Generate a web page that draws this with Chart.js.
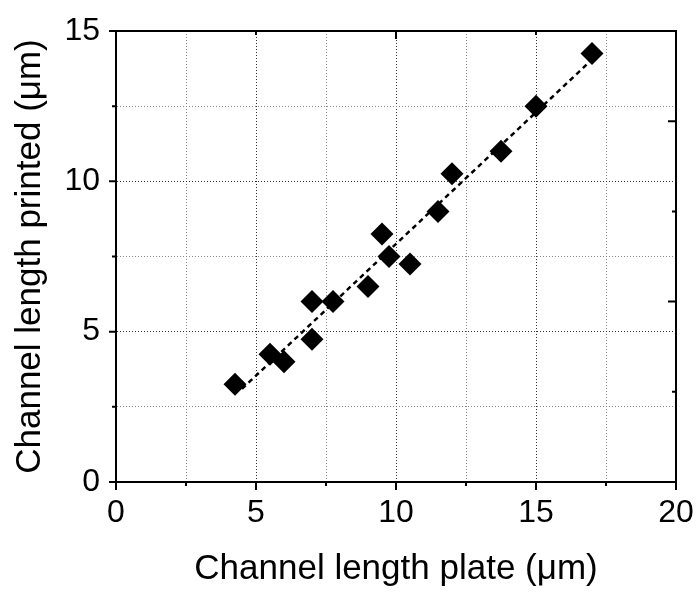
<!DOCTYPE html>
<html>
<head>
<meta charset="utf-8">
<script src="https://cdn.jsdelivr.net/npm/chart.js@4.4.1/dist/chart.umd.min.js"></script>
<style>
  html, body { margin: 0; padding: 0; background: #fff; }
  #wrap { width: 699px; height: 592px; }
</style>
</head>
<body>
<div id="wrap"><canvas id="chart" width="699" height="592"></canvas></div>
<script>
// --- data ---
const plateLength = [4.25, 5.5, 6.0, 7.0, 7.0, 7.75, 9.0, 9.5, 9.75, 10.5, 11.5, 12.0, 13.75, 15.0, 17.0];
const printedLength = [3.25, 4.25, 4.0, 4.75, 6.0, 6.0, 6.5, 8.25, 7.5, 7.25, 9.0, 10.25, 11.0, 12.5, 14.25];
// dashed fit line end points
const fitX = [4.5, 17.0];
const fitY = [3.1, 14.05];

// axis ticks
const xTicks = [0, 5, 10, 15, 20];
const xMinorTicks = [2.5, 7.5, 12.5, 17.5];
const yTicks = [0, 5, 10, 15];
const yMinorTicks = [2.5, 7.5, 12.5];
// top / right axes (inward ticks)
const topMajor = [0, 10, 20];
const topMinor = [5, 15];
const rightMajor = [0, 6, 12];
const rightMinor = [3, 9, 15];

const xTitle = 'Channel length plate (\u03bcm)';
const yTitle = 'Channel length printed (\u03bcm)';

const FONT = "'Liberation Sans', Arial, sans-serif";

const toXY = (xs, ys) => xs.map((x, i) => ({ x: x, y: ys[i] }));

// frame + tick marks drawn from the scales
const framePlugin = {
  id: 'frame',
  afterDraw(chart) {
    const { ctx, chartArea: a, scales: { x, y } } = chart;
    ctx.save();
    ctx.strokeStyle = '#000';
    ctx.lineWidth = 2;
    ctx.beginPath();
    // outward ticks, bottom
    xTicks.forEach(v => { const p = x.getPixelForValue(v); ctx.moveTo(p, a.bottom); ctx.lineTo(p, a.bottom + 8); });
    xMinorTicks.forEach(v => { const p = x.getPixelForValue(v); ctx.moveTo(p, a.bottom); ctx.lineTo(p, a.bottom + 4); });
    // outward ticks, left
    yTicks.forEach(v => { const p = y.getPixelForValue(v); ctx.moveTo(a.left, p); ctx.lineTo(a.left - 7, p); });
    yMinorTicks.forEach(v => { const p = y.getPixelForValue(v); ctx.moveTo(a.left, p); ctx.lineTo(a.left - 4, p); });
    // inward ticks, top
    topMajor.forEach(v => { const p = x.getPixelForValue(v); ctx.moveTo(p, a.top); ctx.lineTo(p, a.top + 8); });
    topMinor.forEach(v => { const p = x.getPixelForValue(v); ctx.moveTo(p, a.top); ctx.lineTo(p, a.top + 4); });
    // inward ticks, right
    rightMajor.forEach(v => { const p = y.getPixelForValue(v); ctx.moveTo(a.right, p); ctx.lineTo(a.right - 8, p); });
    rightMinor.forEach(v => { const p = y.getPixelForValue(v); ctx.moveTo(a.right, p); ctx.lineTo(a.right - 4, p); });
    ctx.stroke();
    // box
    ctx.strokeRect(a.left, a.top, a.right - a.left, a.bottom - a.top);
    ctx.restore();
  }
};

const isMajor = (v) => Math.abs(v % 5) < 1e-6;

new Chart(document.getElementById('chart'), {
  type: 'scatter',
  data: {
    datasets: [
      {
        label: 'data',
        data: toXY(plateLength, printedLength),
        pointStyle: 'rectRot',
        pointRadius: 11.5,
        pointHoverRadius: 11.5,
        backgroundColor: '#000',
        borderColor: '#000',
        borderWidth: 0,
        order: 1
      },
      {
        label: 'fit',
        data: toXY(fitX, fitY),
        showLine: true,
        pointRadius: 0,
        borderColor: '#000',
        borderWidth: 2.5,
        borderDash: [5, 4],
        order: 2
      }
    ]
  },
  options: {
    responsive: false,
    animation: false,
    events: [],
    layout: { padding: { top: 31, right: 23, left: 0, bottom: 0 } },
    plugins: {
      legend: { display: false },
      tooltip: { enabled: false }
    },
    scales: {
      x: {
        type: 'linear',
        min: 0,
        max: 20,
        afterBuildTicks: (s) => { s.ticks = xTicks.concat(xMinorTicks).sort((a, b) => a - b).map(v => ({ value: v })); },
        afterFit: (s) => { s.height = 110; s.paddingLeft = 0; s.paddingRight = 0; },
        ticks: {
          padding: 12,
          color: '#000',
          font: { family: FONT, size: 32 },
          callback: (v) => isMajor(v) ? String(v) : ''
        },
        grid: {
          drawTicks: false,
          color: (c) => (c.tick && isMajor(c.tick.value)) ? '#333' : '#888',
          lineWidth: 1
        },
        border: { display: true, color: '#000', width: 2, dash: [1, 2] },
        title: {
          display: true,
          text: xTitle,
          color: '#000',
          font: { family: FONT, size: 35 },
          padding: { top: 0, bottom: 2 }
        }
      },
      y: {
        type: 'linear',
        min: 0,
        max: 15,
        afterBuildTicks: (s) => { s.ticks = yTicks.concat(yMinorTicks).sort((a, b) => a - b).map(v => ({ value: v })); },
        afterFit: (s) => { s.width = 116; s.paddingTop = 0; s.paddingBottom = 0; },
        ticks: {
          padding: 16,
          color: '#000',
          font: { family: FONT, size: 32 },
          callback: (v) => isMajor(v) ? String(v) : ''
        },
        grid: {
          drawTicks: false,
          color: (c) => (c.tick && isMajor(c.tick.value)) ? '#333' : '#888',
          lineWidth: 1
        },
        border: { display: true, color: '#000', width: 2, dash: [1, 2] },
        title: {
          display: true,
          text: yTitle,
          color: '#000',
          font: { family: FONT, size: 35 },
          padding: { top: 9, bottom: 0 }
        }
      }
    }
  },
  plugins: [framePlugin]
});
</script>
</body>
</html>
